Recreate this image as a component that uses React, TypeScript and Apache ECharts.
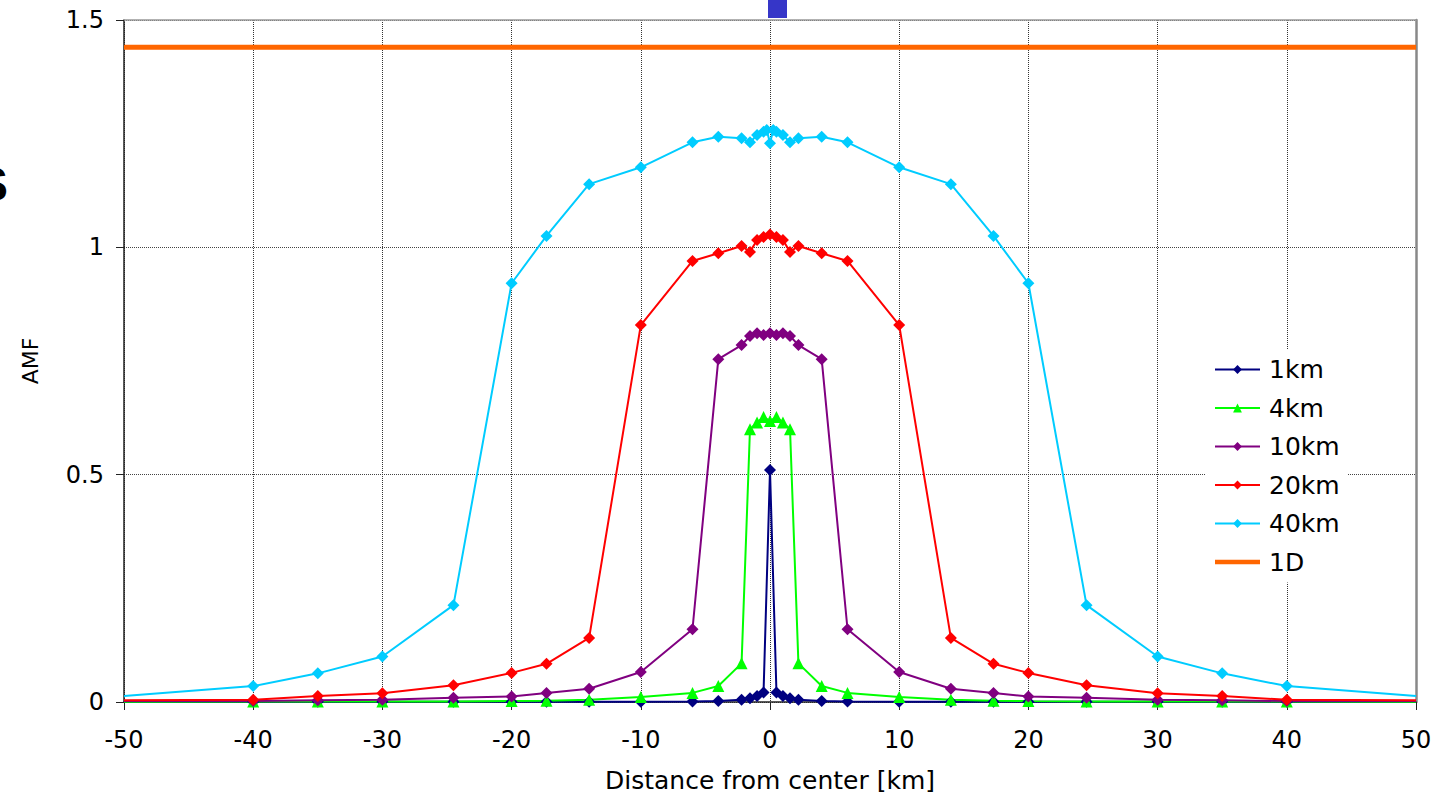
import React, { useEffect, useRef } from "react";
import * as echarts from "echarts";

const distances = [-50, -40, -35, -30, -24.5, -20, -17.3, -14, -10, -6, -4, -2.2, -1.55, -1, -0.5, 0, 0.5, 1, 1.55, 2.2, 4, 6, 10, 14, 17.3, 20, 24.5, 30, 35, 40, 50];

const amf1km = [0.0005, 0.0005, 0.0005, 0.0005, 0.0005, 0.0005, 0.0005, 0.0005, 0.0008, 0.001, 0.002, 0.005, 0.008, 0.013, 0.021, 0.51, 0.021, 0.013, 0.008, 0.005, 0.002, 0.001, 0.0008, 0.0005, 0.0005, 0.0005, 0.0005, 0.0005, 0.0005, 0.0005, 0.0005];

const amf4km = [0.0005, 0.001, 0.001, 0.001, 0.001, 0.002, 0.003, 0.005, 0.011, 0.02, 0.035, 0.085, 0.6, 0.615, 0.627, 0.618, 0.627, 0.615, 0.6, 0.085, 0.035, 0.02, 0.011, 0.005, 0.003, 0.002, 0.001, 0.001, 0.001, 0.001, 0.0005];

const amf10km = [0.002, 0.002, 0.004, 0.005, 0.0095, 0.012, 0.02, 0.029, 0.066, 0.16, 0.754, 0.785, 0.805, 0.811, 0.807, 0.811, 0.807, 0.811, 0.805, 0.785, 0.754, 0.16, 0.066, 0.029, 0.02, 0.012, 0.0095, 0.005, 0.004, 0.002, 0.002];

const amf20km = [0.004, 0.005, 0.013, 0.019, 0.037, 0.064, 0.084, 0.141, 0.829, 0.97, 0.987, 1.003, 0.99, 1.016, 1.023, 1.028, 1.023, 1.016, 0.99, 1.003, 0.987, 0.97, 0.829, 0.141, 0.084, 0.064, 0.037, 0.019, 0.013, 0.005, 0.004];

const distances40 = [-50, -40, -35, -30, -24.5, -20, -17.3, -14, -10, -6, -4, -2.2, -1.55, -1, -0.5, -0.25, 0, 0.25, 0.5, 1, 1.55, 2.2, 4, 6, 10, 14, 17.3, 20, 24.5, 30, 35, 40, 50];
const amf40km = [0.013, 0.035, 0.063, 0.1, 0.213, 0.921, 1.025, 1.139, 1.176, 1.231, 1.243, 1.24, 1.231, 1.247, 1.254, 1.258, 1.229, 1.258, 1.254, 1.247, 1.231, 1.24, 1.243, 1.231, 1.176, 1.139, 1.025, 0.921, 0.213, 0.1, 0.063, 0.035, 0.013];

const distances1D = [-50, 50];
const amf1D = [1.44, 1.44];

const legendNames = ["1km", "4km", "10km", "20km", "40km", "1D"];

const xTicks = { min: -50, max: 50, interval: 10 };
const yTicks = { min: 0, max: 1.5, interval: 0.5 };

const FONT = "DejaVu Sans";

function toData(xs: number[], ys: number[]) {
  return xs.map((x, i) => {
    const item: any = { value: [x, ys[i]] };
    if (Math.abs(x) >= 50) item.symbol = "none";
    return item;
  });
}

export default function App() {
  const ref = useRef<HTMLDivElement>(null);
  useEffect(() => {
    if (!ref.current) return;
    const chart = echarts.init(ref.current, undefined, { renderer: "svg" });
    const lineSeries = (name: string, color: string, xs: number[], ys: number[], symbol: string, size: number) => ({
      name,
      type: "line",
      data: toData(xs, ys),
      symbol,
      symbolSize: size,
      showAllSymbol: true,
      itemStyle: { color },
      lineStyle: { color, width: 2 },
      emphasis: { disabled: true },
    });
    chart.setOption({
      animation: false,
      backgroundColor: "#fff",
      textStyle: { fontFamily: FONT },
      grid: { left: 124, right: 29, top: 20, bottom: 92, outerBoundsMode: "none", containLabel: false },
      legend: {
        orient: "vertical",
        left: 1206,
        top: 349,
        padding: [8, 8, 8, 8],
        backgroundColor: "#fff",
        itemWidth: 45,
        itemHeight: 11,
        itemGap: 13.5,
        textStyle: { fontSize: 25, color: "#000", fontFamily: FONT, padding: [0, 0, 0, 4] },
        data: legendNames.map((n) =>
          n === "1D" ? { name: n, icon: "path://M0,0 H48 V5 H0 Z" } : { name: n }
        ),
      },
      xAxis: [
        {
          type: "value",
          ...xTicks,
          name: "Distance from center [km]",
          nameLocation: "middle",
          nameGap: 66,
          nameTextStyle: { fontSize: 25, color: "#000", fontFamily: FONT },
          axisLine: { onZero: false, lineStyle: { color: "#222", width: 1.5 } },
          axisTick: { show: true, inside: false, length: 8, lineStyle: { color: "#222" } },
          axisLabel: { fontSize: 24, color: "#000", margin: 26, fontFamily: FONT },
          splitLine: { show: true, lineStyle: { type: "dotted", color: "#333", width: 1 } },
        },
        {
          type: "value",
          position: "top",
          ...xTicks,
          axisLine: { show: true, onZero: false, lineStyle: { color: "#999", width: 1.5 } },
          axisTick: { show: false },
          axisLabel: { show: false },
          splitLine: { show: false },
        },
      ],
      yAxis: [
        {
          type: "value",
          ...yTicks,
          name: "AMF",
          nameLocation: "middle",
          nameGap: 83,
          nameTextStyle: { fontSize: 22, color: "#000", fontFamily: FONT },
          axisLine: { show: true, onZero: false, lineStyle: { color: "#222", width: 1.5 } },
          axisTick: { show: true, inside: false, length: 8, lineStyle: { color: "#222" } },
          axisLabel: { fontSize: 24, color: "#000", margin: 20, fontFamily: FONT },
          splitLine: { show: true, lineStyle: { type: "dotted", color: "#444", width: 1 } },
        },
        {
          type: "value",
          position: "right",
          ...yTicks,
          axisLine: { show: true, onZero: false, lineStyle: { color: "#888", width: 2.5 } },
          axisTick: { show: false },
          axisLabel: { show: false },
          splitLine: { show: false },
        },
      ],
      series: [
        lineSeries("1km", "#000080", distances, amf1km, "diamond", 12),
        lineSeries("4km", "#00ff00", distances, amf4km, "triangle", 12),
        lineSeries("10km", "#800080", distances, amf10km, "diamond", 12),
        lineSeries("20km", "#ff0000", distances, amf20km, "diamond", 12),
        lineSeries("40km", "#00ccff", distances40, amf40km, "diamond", 12),
        {
          name: "1D",
          type: "line",
          data: distances1D.map((x, i) => [x, amf1D[i]]),
          symbol: "none",
          clip: false,
          itemStyle: { color: "#ff6600" },
          lineStyle: { color: "#ff6600", width: 5 },
          emphasis: { disabled: true },
        },
      ],
      graphic: [
        { type: "rect", left: 768, top: 0, shape: { width: 19, height: 18 }, style: { fill: "#3636c8" }, z: 10 },
        {
          type: "text",
          x: -24,
          y: 184,
          style: { text: "S", fontSize: 48, fontWeight: "bold", fontFamily: "Liberation Sans", fill: "#000", verticalAlign: "middle" },
        },
      ],
    });
    return () => chart.dispose();
  }, []);
  return <div ref={ref} style={{ width: 1445, height: 794, position: "absolute", left: 0, top: 0 }} />;
}
